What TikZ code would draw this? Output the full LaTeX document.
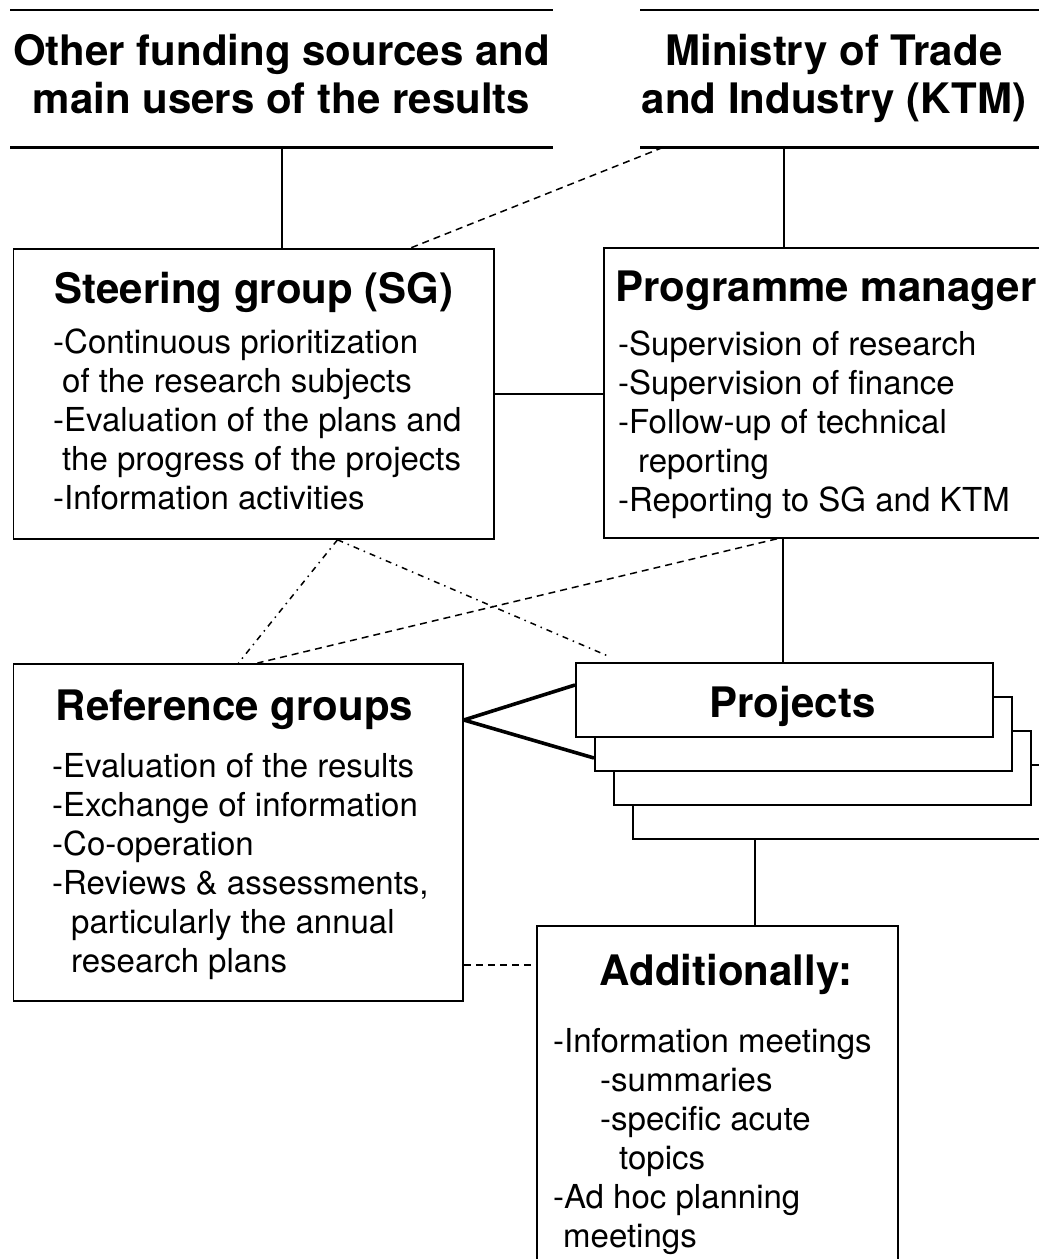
\documentclass[tikz,border=0pt]{standalone}
\usepackage{fontspec}
\setmainfont{TeX Gyre Heros}
\usetikzlibrary{positioning}

\newcommand{\headfont}{\fontsize{42}{48}\selectfont\bfseries}
\newcommand{\listfont}{\fontsize{33}{39}\selectfont}

\tikzset{
  box/.style={draw, line width=1.8pt, anchor=north west, inner sep=0pt, fill=white},
  openblock/.style={anchor=north west, inner sep=0pt, minimum height=137pt},
  rule/.style={line width=2.2pt},
  head/.style={font=\headfont, anchor=base, align=center, inner sep=0pt},
  items/.style={font=\listfont, anchor=base west, align=left, inner sep=0pt},
  link/.style={line width=2pt},
  fork/.style={line width=3.6pt, line join=round},
  dashlink/.style={line width=1.5pt, dash pattern=on 7pt off 5pt},
  dotlink/.style={line width=1.5pt, dash pattern=on 6pt off 5pt on 1.5pt off 5pt},
}

\begin{document}
\begin{tikzpicture}[x=1pt, y=-1pt]
\useasboundingbox (0,0) rectangle (1039,1259);

% open blocks on top
\node[openblock, minimum width=543pt] (other) at (10,10) {};
\node[openblock, minimum width=420pt] (ktm) at (640,10) {};
\draw[rule] (other.north west) -- (other.north east);
\draw[rule] (other.south west) -- (other.south east);
\draw[rule] (ktm.north west) -- (ktm.north east);
\draw[rule] (ktm.south west) -- (ktm.south east);
% base of a two-line node is its last line
\node[head] (othertitle) at (281.5,113) {Other funding sources and\\main users of the results};
\node[head] (ktmtitle) at (834,113) {Ministry of Trade\\and Industry (KTM)};

% boxes
\node[box, minimum width=480.5pt, minimum height=290pt] (sg) at (12.5,248) {};
\node[box, minimum width=450pt, minimum height=290pt] (pm) at (603,247) {};
\node[box, minimum width=449.5pt, minimum height=337pt] (ref) at (12.5,663) {};
\node[box, minimum width=361pt, minimum height=345pt] (add) at (536,925) {};
\foreach \i in {3,2,1}
  \node[box, minimum width=417pt, minimum height=74pt] (proj\i) at (575+19*\i, 662+34*\i) {};
\node[box, minimum width=417pt, minimum height=74pt] (proj) at (575,662) {};

% titles
\node[head] (sgtitle) at (254,303) {Steering group (SG)};
\node[head] (pmtitle) at (826,301) {Programme manager};
\node[head] (reftitle) at (234.5,720) {Reference groups};
\node[head] (projtitle) at (792.5,717) {Projects};
\node[head] (addtitle) at (726,985) {Additionally:};

% lists (placed by their last line)
\node[items] (sglist) at (53,509) {-Continuous prioritization\\
  \hspace*{9pt}of the research subjects\\
  -Evaluation of the plans and\\
  \hspace*{9pt}the progress of the projects\\
  -Information activities};
\node[items] (pmlist) at (618,511) {-Supervision of research\\
  -Supervision of finance\\
  -Follow-up of technical\\
  \hspace*{20pt}reporting\\
  -Reporting to SG and KTM};
\node[items] (reflist) at (52,972) {-Evaluation of the results\\
  -Exchange of information\\
  -Co-operation\\
  -Reviews \& assessments,\\
  \hspace*{19pt}particularly the annual\\
  \hspace*{19pt}research plans};
\node[items] (addlist) at (553,1247) {-Information meetings\\
  \hspace*{47pt}-summaries\\
  \hspace*{47pt}-specific acute\\
  \hspace*{66pt}topics\\
  -Ad hoc planning\\
  \hspace*{10pt}meetings};

% connectors
\coordinate (pmtop) at ([xshift=181pt]pm.north west);
\coordinate (pmfoot) at ([xshift=180pt]pm.south west);
\coordinate (sgfoot) at ([xshift=325pt]sg.south west);
\coordinate (refside) at ([yshift=-302pt]ref.north east);
\coordinate (projfoot) at ([xshift=123pt]proj3.south west);

\draw[link] (other.south) -- (other.south |- sg.north);
\draw[dashlink] ([xshift=23pt]ktm.south west) -- ([xshift=398pt]sg.north west);
\draw[link] (pmtop) -- (pmtop |- ktm.south);
\draw[link] (sg.east) -- (pm.west |- sg.east);
\draw[link] (pmfoot) -- (pmfoot |- proj.north);
\draw[dashlink] ([xshift=174pt]pm.south west) -- ([xshift=245pt]ref.north west);
\draw[dotlink] (sgfoot) -- ([xshift=226pt]ref.north west);
\draw[dotlink] (sgfoot) -- ([xshift=33pt, yshift=6pt]proj.north west);
\draw[fork] ([yshift=-23pt]proj.north west) -- ([yshift=-57pt]ref.north east)
  -- ([yshift=-62pt]proj1.north west);
\draw[dashlink] (refside) -- (refside -| add.west);
\draw[link] (projfoot) -- (projfoot |- add.north);
\end{tikzpicture}
\end{document}
